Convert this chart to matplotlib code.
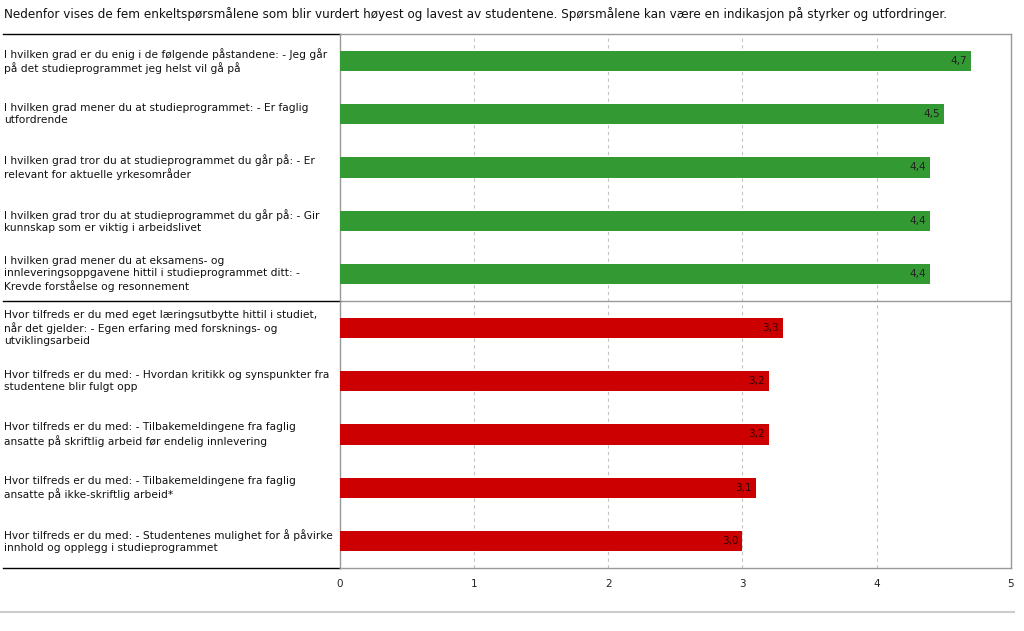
import matplotlib
matplotlib.use("Agg")
import matplotlib.pyplot as plt
from matplotlib.lines import Line2D

title = ("Nedenfor vises de fem enkeltspørsmålene som blir vurdert høyest og lavest av studentene. "
         "Spørsmålene kan være en indikasjon på styrker og utfordringer.")

questions = [
    "I hvilken grad er du enig i de følgende påstandene: - Jeg går\npå det studieprogrammet jeg helst vil gå på",
    "I hvilken grad mener du at studieprogrammet: - Er faglig\nutfordrende",
    "I hvilken grad tror du at studieprogrammet du går på: - Er\nrelevant for aktuelle yrkesområder",
    "I hvilken grad tror du at studieprogrammet du går på: - Gir\nkunnskap som er viktig i arbeidslivet",
    "I hvilken grad mener du at eksamens- og\ninnleveringsoppgavene hittil i studieprogrammet ditt: -\nKrevde forståelse og resonnement",
    "Hvor tilfreds er du med eget læringsutbytte hittil i studiet,\nnår det gjelder: - Egen erfaring med forsknings- og\nutviklingsarbeid",
    "Hvor tilfreds er du med: - Hvordan kritikk og synspunkter fra\nstudentene blir fulgt opp",
    "Hvor tilfreds er du med: - Tilbakemeldingene fra faglig\nansatte på skriftlig arbeid før endelig innlevering",
    "Hvor tilfreds er du med: - Tilbakemeldingene fra faglig\nansatte på ikke-skriftlig arbeid*",
    "Hvor tilfreds er du med: - Studentenes mulighet for å påvirke\ninnhold og opplegg i studieprogrammet",
]
values = [4.7, 4.5, 4.4, 4.4, 4.4, 3.3, 3.2, 3.2, 3.1, 3.0]
groups = ["high"] * 5 + ["low"] * 5
group_colors = {"high": "#339933", "low": "#cc0000"}
x_ticks = [0, 1, 2, 3, 4, 5]

plt.rcParams['font.family'] = ['DejaVu Sans']

fig = plt.figure(figsize=(10.24, 6.31), dpi=100)
ax = fig.add_axes([339.5 / 1024, 1 - 568 / 631, (1011 - 339.5) / 1024, (568 - 34) / 631])

ypos = list(range(len(values)))
colors = [group_colors[g] for g in groups]
ax.barh(ypos, values, height=0.375, color=colors, zorder=3)

ax.set_xlim(0, 5)
ax.set_ylim(len(values) - 0.5, -0.5)
ax.set_yticks([])
ax.set_xticks(x_ticks)
ax.set_xticklabels([str(t) for t in x_ticks], fontsize=7.5, color="#222222")
ax.tick_params(axis='x', length=0, pad=8)
for t in x_ticks[1:-1]:
    ax.axvline(t, color="#c4c4c4", linestyle=(0, (3, 3)), linewidth=0.8, zorder=1)
for s in ax.spines.values():
    s.set_color("#999999")
    s.set_linewidth(1.0)

# separator between groups
ax.axhline(4.5, color="#999999", linewidth=1.0, zorder=2)

# value labels
for y, v, g in zip(ypos, values, groups):
    ax.text(v - 0.03, y, f"{v:.1f}".replace('.', ','), ha='right', va='center',
            fontsize=7.5, color="#222222" if g == "high" else "#330000", zorder=4)

# question labels and black lines in the label column
tr = ax.get_yaxis_transform()
left_ax = -(339.5 - 4) / (1011 - 339.5)
for y, q in zip(ypos, questions):
    ax.text(left_ax, y, q, transform=tr, ha='left', va='center', fontsize=7.7,
            color="#111111", linespacing=1.22, clip_on=False)
for yl in [-0.5, 4.5, len(values) - 0.5]:
    ax.plot([-(339.5 - 3) / (1011 - 339.5), 0], [yl, yl], transform=tr,
            color="black", linewidth=1.0, clip_on=False)

fig.text(4 / 1024, 1 - 14 / 631, title, ha='left', va='center', fontsize=8.65, color="#111111")
fig.add_artist(Line2D([0, 1014 / 1024], [1 - 612 / 631] * 2, color="#cccccc", linewidth=1.5))

fig.savefig("out.png", dpi=100)
